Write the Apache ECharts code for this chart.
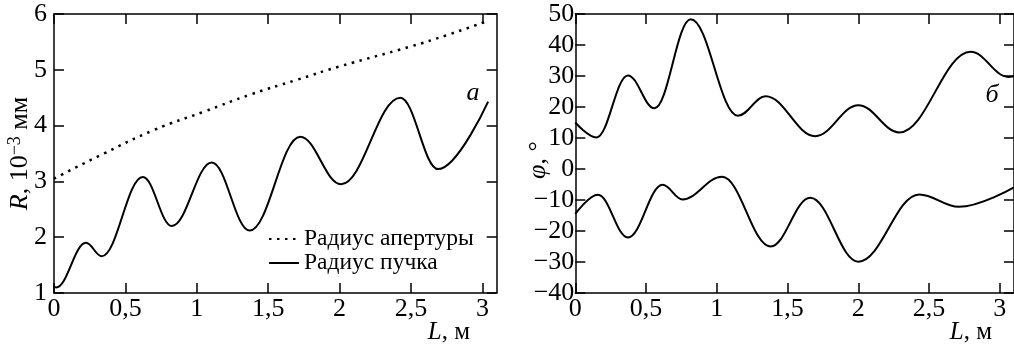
<!DOCTYPE html>
<html><head><meta charset="utf-8">
<script src="https://cdn.jsdelivr.net/npm/echarts@6/dist/echarts.min.js"></script>
<style>html,body{margin:0;padding:0;background:#fff}#c{width:1014px;height:346px}</style>
</head><body><div id="c"></div>
<script>
// Panel a: radius vs length (peaks / troughs)
const beamL = [0, 0.015, 0.224, 0.334, 0.622, 0.825, 1.105, 1.37, 1.724, 2.01, 2.425, 2.69, 3.04];
const beamR = [1.12, 1.1, 1.90, 1.66, 3.08, 2.20, 3.34, 2.12, 3.80, 2.95, 4.50, 3.22, 4.43];
const aperL = [0, 0.35, 0.7, 1.05, 1.38, 1.7, 2.0, 2.5, 2.75, 3.02];
const aperR = [3.05, 3.5, 3.92, 4.25, 4.56, 4.82, 5.06, 5.42, 5.62, 5.86];
// Panel б: angle vs length
const phiUpL = [0, 0.15, 0.372, 0.559, 0.816, 1.149, 1.345, 1.696, 2.0, 2.29, 2.794, 3.06, 3.1];
const phiUp  = [15, 10.2, 30.2, 19.6, 48.3, 17.2, 23.5, 10.6, 20.6, 11.8, 37.8, 29.7, 29.9];
const phiLoL = [0, 0.16, 0.372, 0.617, 0.757, 1.037, 1.38, 1.66, 2.0, 2.43, 2.71, 3.1];
const phiLo  = [-14.5, -8.3, -22.1, -5.1, -9.8, -2.5, -25, -9.3, -29.9, -8.2, -12.2, -5.9];
const xTicks = [0, 0.5, 1, 1.5, 2, 2.5, 3];

const pairs = (xs, ys) => xs.map((x, i) => [x, ys[i]]);
const FF = 'Liberation Serif';
const FS = 26;
const fmtX = v => String(Math.round(v * 10) / 10).replace('.', ',');
const fmtY = v => v < 0 ? '\u2212' + Math.abs(v) : String(v);

function xAx(grid, pos, showLabel) {
  return {
    type: 'value', gridIndex: grid, position: pos, min: 0, max: 3.1, interval: 0.5,
    axisLine: {show: true, onZero: false, lineStyle: {color: '#000', width: 1.5}},
    axisTick: {show: true, inside: true, length: 10, lineStyle: {color: '#000', width: 1.5}, customValues: xTicks},
    axisLabel: {show: showLabel, formatter: fmtX, color: '#000', fontFamily: FF, fontSize: FS, margin: 3, customValues: xTicks},
    splitLine: {show: false}
  };
}
function yAx(grid, pos, min, max, iv, showLabel, margin, extra) {
  return Object.assign({
    type: 'value', gridIndex: grid, position: pos, min: min, max: max, interval: iv,
    axisLine: {show: true, onZero: false, lineStyle: {color: '#000', width: 1.5}},
    axisTick: {show: true, inside: true, length: 10, lineStyle: {color: '#000', width: 1.5}},
    axisLabel: {show: showLabel, formatter: fmtY, color: '#000', fontFamily: FF, fontSize: FS, margin: margin},
    splitLine: {show: false}
  }, extra || {});
}
const curve = {color: '#000', width: 2};

const chart = echarts.init(document.getElementById('c'), null, {renderer: 'canvas'});
chart.setOption({
  animation: false,
  backgroundColor: '#fff',
  grid: [
    {left: 54, top: 14, width: 442.7, height: 279},
    {left: 575.3, top: 14, width: 442.4, height: 279}
  ],
  xAxis: [xAx(0, 'bottom', true), xAx(0, 'top', false), xAx(1, 'bottom', true), xAx(1, 'top', false)],
  yAxis: [
    yAx(0, 'left', 1, 6, 1, true, 7, {
      name: '{i|R}, 10{s|\u22123} мм', nameLocation: 'middle', nameGap: 19, nameRotate: 90, nameMoveOverlap: false,
      nameTextStyle: {color: '#000', fontFamily: FF, fontSize: FS,
        rich: {i: {fontStyle: 'italic', fontFamily: FF, fontSize: FS, color: '#000'},
               s: {fontFamily: FF, fontSize: 18, color: '#000', padding: [0, 0, 11, 0]}}}
    }),
    yAx(0, 'right', 1, 6, 1, false, 7),
    yAx(1, 'left', -40, 50, 10, true, 1, {
      name: '{i|φ}, °', nameLocation: 'middle', nameGap: 24, nameRotate: 90, nameMoveOverlap: false,
      nameTextStyle: {color: '#000', fontFamily: FF, fontSize: FS, padding: [0, 13, 0, 0],
        rich: {i: {fontStyle: 'italic', fontFamily: FF, fontSize: FS, color: '#000'}}}
    }),
    yAx(1, 'right', -40, 50, 10, false, 1)
  ],
  legend: {
    orient: 'vertical', left: 268, top: 227, padding: 0, itemWidth: 30, itemHeight: 14, itemGap: 0,
    data: ['Радиус апертуры', 'Радиус пучка'],
    itemStyle: {opacity: 0},
    textStyle: {color: '#000', fontFamily: FF, fontSize: 23.5, lineHeight: 24}
  },
  series: [
    {name: 'Радиус апертуры', type: 'line', xAxisIndex: 0, yAxisIndex: 0, data: pairs(aperL, aperR),
     symbol: 'none', smooth: true, lineStyle: {color: '#000', width: 2.5, type: [2.5, 5.5]}, itemStyle: {color: '#000'}},
    {name: 'Радиус пучка', type: 'line', xAxisIndex: 0, yAxisIndex: 0, data: pairs(beamL, beamR),
     symbol: 'none', smooth: 0.38, smoothMonotone: 'x', lineStyle: curve, itemStyle: {color: '#000'}},
    {name: 'φ1', type: 'line', xAxisIndex: 2, yAxisIndex: 2, data: pairs(phiUpL, phiUp),
     symbol: 'none', smooth: 0.38, smoothMonotone: 'x', lineStyle: curve, itemStyle: {color: '#000'}},
    {name: 'φ2', type: 'line', xAxisIndex: 2, yAxisIndex: 2, data: pairs(phiLoL, phiLo),
     symbol: 'none', smooth: 0.38, smoothMonotone: 'x', lineStyle: curve, itemStyle: {color: '#000'}}
  ],
  graphic: [
    {type: 'text', style: {text: 'а', x: 473, y: 93, font: 'italic 26px "Liberation Serif"', fill: '#000', align: 'center', verticalAlign: 'middle'}},
    {type: 'text', style: {text: 'б', x: 992, y: 95, font: 'italic 26px "Liberation Serif"', fill: '#000', align: 'center', verticalAlign: 'middle'}},
    {type: 'text', style: {text: '{i|L}, м', x: 470, y: 332, font: '25px "Liberation Serif"', fill: '#000', align: 'right', verticalAlign: 'middle',
      rich: {i: {fontStyle: 'italic', fontFamily: FF, fontSize: 25}}}},
    {type: 'text', style: {text: '{i|L}, м', x: 992, y: 332, font: '25px "Liberation Serif"', fill: '#000', align: 'right', verticalAlign: 'middle',
      rich: {i: {fontStyle: 'italic', fontFamily: FF, fontSize: 25}}}}
  ]
});
</script></body></html>
